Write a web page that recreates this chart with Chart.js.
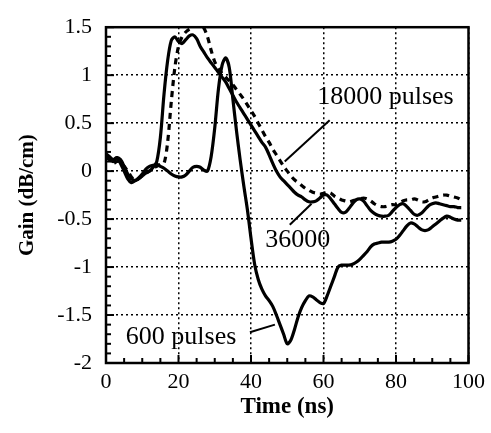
<!DOCTYPE html>
<html>
<head>
<meta charset="utf-8">
<script src="https://cdn.jsdelivr.net/npm/chart.js@4"></script>
<style>
  html, body { margin: 0; padding: 0; background: #fff; }
  #wrap { width: 491px; height: 433px; }
</style>
</head>
<body>
<div id="wrap"><canvas id="myChart" width="491" height="433"></canvas></div>
<script>
// time axis (ns)
const time = [];
for (let t = 0; t <= 98; t++) time.push(t);

// gain (dB/cm)
const gain600 = [
  0.18, 0.15, 0.12, 0.14, 0.08, 0.0, -0.08, -0.12, -0.1, -0.07,
  -0.03, 0.02, 0.05, 0.06, 0.07, 0.05, 0.03, 0.0, -0.03, -0.05,
  -0.06, -0.06, -0.04, 0.0, 0.04, 0.05, 0.04, 0.01, 0.0, 0.15,
  0.45, 0.85, 1.1, 1.18, 1.08, 0.75, 0.42, 0.12, -0.15, -0.4,
  -0.7, -0.97, -1.13, -1.23, -1.3, -1.35, -1.41, -1.5, -1.6, -1.7,
  -1.8, -1.76, -1.65, -1.52, -1.42, -1.35, -1.3, -1.31, -1.34, -1.37,
  -1.38, -1.3, -1.2, -1.1, -1.0, -0.98, -0.98, -0.98, -0.97, -0.95,
  -0.92, -0.88, -0.84, -0.79, -0.76, -0.75, -0.74, -0.74, -0.74, -0.73,
  -0.71, -0.67, -0.62, -0.57, -0.54, -0.55, -0.58, -0.61, -0.62, -0.61,
  -0.58, -0.55, -0.52, -0.49, -0.47, -0.48, -0.5, -0.51, -0.51
];
const gain18000 = [
  0.15, 0.12, 0.08, 0.1, 0.1, 0.05, 0.0, -0.06, -0.1, -0.08,
  -0.05, -0.02, 0.0, 0.03, 0.05, 0.07, 0.08, 0.3, 0.72, 1.08,
  1.3, 1.4, 1.45, 1.48, 1.5, 1.53, 1.52, 1.49, 1.4, 1.26,
  1.14, 1.07, 1.02, 0.98, 0.94, 0.9, 0.85, 0.8, 0.75, 0.69,
  0.63, 0.57, 0.5, 0.43, 0.36, 0.3, 0.23, 0.17, 0.11, 0.05,
  0.0, -0.05, -0.09, -0.12, -0.15, -0.18, -0.2, -0.22, -0.23, -0.24,
  -0.23, -0.22, -0.23, -0.26, -0.28, -0.3, -0.31, -0.32, -0.31, -0.3,
  -0.29, -0.28, -0.29, -0.31, -0.34, -0.36, -0.37, -0.37, -0.36, -0.35,
  -0.35, -0.33, -0.31, -0.3, -0.3, -0.29, -0.3, -0.32, -0.32, -0.3,
  -0.28, -0.27, -0.26, -0.25, -0.25, -0.26, -0.27, -0.28, -0.3
];
const gain36000 = [
  0.15, 0.12, 0.1, 0.14, 0.12, 0.05, -0.03, -0.08, -0.1, -0.08,
  -0.05, -0.02, 0.0, 0.04, 0.1, 0.35, 0.8, 1.15, 1.36, 1.4,
  1.35, 1.33, 1.37, 1.41, 1.42, 1.38, 1.3, 1.24, 1.18, 1.13,
  1.08, 1.03, 0.98, 0.93, 0.86, 0.79, 0.72, 0.66, 0.6, 0.54,
  0.48, 0.42, 0.36, 0.3, 0.25, 0.17, 0.08, 0.0, -0.06, -0.1,
  -0.14, -0.18, -0.22, -0.25, -0.27, -0.3, -0.32, -0.32, -0.31, -0.28,
  -0.25, -0.25, -0.29, -0.34, -0.39, -0.43, -0.43, -0.39, -0.34, -0.3,
  -0.29, -0.31, -0.36, -0.41, -0.44, -0.46, -0.47, -0.47, -0.46, -0.42,
  -0.38, -0.35, -0.34, -0.37, -0.41, -0.45, -0.46, -0.44, -0.4, -0.36,
  -0.34, -0.33, -0.34, -0.35, -0.36, -0.37, -0.37, -0.38, -0.38
];

const xTicks = [0, 20, 40, 60, 80, 100];
const yTicks = [-2, -1.5, -1, -0.5, 0, 0.5, 1, 1.5];

const serif = "'Liberation Serif', 'Times New Roman', serif";

function pts(ys) {
  return time.map((t, i) => ({ x: t, y: ys[i] }));
}

// box, inward minor/major ticks and the curve labels
const decor = {
  id: 'decor',
  afterDatasetsDraw(chart) {
    const c = chart.ctx;
    const a = chart.chartArea;
    const xs = chart.scales.x, ys = chart.scales.y;
    c.save();
    c.strokeStyle = '#000';
    c.lineWidth = 2;
    for (let t = 0; t <= 100; t += 5) {
      const px = xs.getPixelForValue(t);
      const len = t % 20 === 0 ? 8 : 5;
      c.beginPath(); c.moveTo(px, a.bottom); c.lineTo(px, a.bottom - len); c.stroke();
    }
    for (let k = -20; k <= 15; k++) {
      const py = ys.getPixelForValue(k / 10);
      const len = k % 5 === 0 ? 8 : 5;
      c.beginPath(); c.moveTo(a.left, py); c.lineTo(a.left + len, py); c.stroke();
    }
    c.lineWidth = 2.5;
    c.strokeRect(a.left, a.top, a.right - a.left, a.bottom - a.top);

    c.fillStyle = '#000';
    c.font = '26px ' + serif;
    c.textAlign = 'center';
    c.textBaseline = 'middle';
    const notes = [
      { text: '18000 pulses', at: [77.1, 0.77], from: [61.7, 0.53], to: [49.3, 0.1] },
      { text: '36000', at: [52.9, -0.72], from: [50.7, -0.56], to: [56.7, -0.34] },
      { text: '600 pulses', at: [20.7, -1.73], from: [39.7, -1.68], to: [46.6, -1.6] }
    ];
    c.lineWidth = 2;
    notes.forEach(n => {
      c.fillText(n.text, xs.getPixelForValue(n.at[0]), ys.getPixelForValue(n.at[1]));
      c.beginPath();
      c.moveTo(xs.getPixelForValue(n.from[0]), ys.getPixelForValue(n.from[1]));
      c.lineTo(xs.getPixelForValue(n.to[0]), ys.getPixelForValue(n.to[1]));
      c.stroke();
    });
    c.restore();
  }
};

const ctx = document.getElementById('myChart').getContext('2d');
const myChart = new Chart(ctx, {
  type: 'line',
  data: {
    datasets: [
      { label: '600 pulses', data: pts(gain600), borderColor: '#000', borderWidth: 3.2, pointRadius: 0, tension: 0.3 },
      { label: '18000 pulses', data: pts(gain18000), borderColor: '#000', borderWidth: 3.2, borderDash: [6, 5], pointRadius: 0, tension: 0.3 },
      { label: '36000', data: pts(gain36000), borderColor: '#000', borderWidth: 3.2, pointRadius: 0, tension: 0.3 }
    ]
  },
  options: {
    responsive: false,
    animation: false,
    events: [],
    layout: { padding: { left: 0, right: 22, top: 20, bottom: 0 } },
    plugins: { legend: { display: false }, tooltip: { enabled: false } },
    scales: {
      x: {
        type: 'linear',
        min: 0, max: 100,
        afterFit(s) { s.height = 70; },
        afterBuildTicks(s) { s.ticks = xTicks.map(v => ({ value: v })); },
        ticks: { color: '#000', padding: 6, font: { family: serif, size: 22 }, callback: v => String(v) },
        grid: { color: '#000', lineWidth: 1.5, drawTicks: false },
        border: { display: false, dash: [2, 3] },
        title: { display: true, text: 'Time (ns)', color: '#000', padding: { top: 2, bottom: 12 }, font: { family: serif, size: 23, weight: 'bold' } }
      },
      y: {
        min: -2, max: 1.5,
        afterFit(s) { s.width = 106; },
        afterBuildTicks(s) { s.ticks = yTicks.map(v => ({ value: v })); },
        ticks: { color: '#000', padding: 14, font: { family: serif, size: 22 }, callback: v => String(v) },
        grid: { color: '#000', lineWidth: 1.5, drawTicks: false },
        border: { display: false, dash: [2, 3] },
        title: { display: true, text: 'Gain (dB/cm)', color: '#000', padding: { top: 15, bottom: 0 }, font: { family: serif, size: 21, weight: 'bold' } }
      }
    }
  },
  plugins: [decor]
});
</script>
</body>
</html>
